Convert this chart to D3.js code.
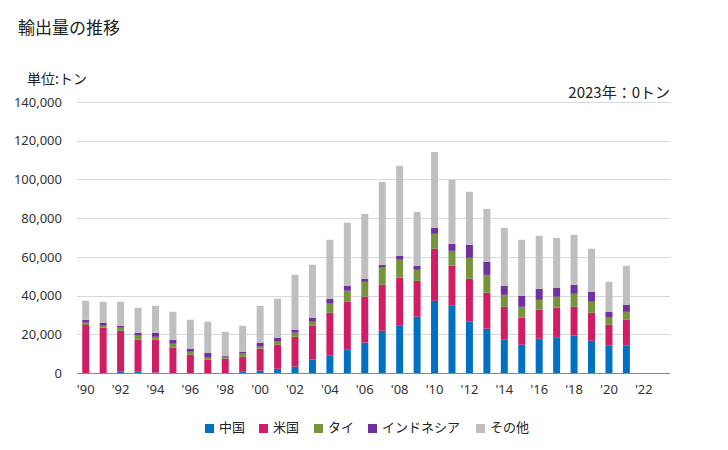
<!DOCTYPE html>
<html><head><meta charset="utf-8">
<script src="https://cdn.jsdelivr.net/npm/d3@7"></script>
<style>body{margin:0;background:#fff;}svg{display:block;font-family:"Noto Sans CJK JP","Noto Sans",sans-serif;}</style>
</head><body>
<svg id="c" width="728" height="450"></svg>
<script>
const years = d3.range(1990, 2024);
const seriesNames = ["中国","米国","タイ","インドネシア","その他"];
const colors = ["#0070c0","#d01e64","#77933c","#7030a0","#bfbfbf"];
const china = [0,0,900,900,200,0,0,0,0,900,1200,2200,3300,6900,8900,12000,15700,21800,24400,29100,37300,34700,26500,22900,17200,14600,17700,18200,19300,16700,14100,14100,0,0];
const usa = [24800,23400,20900,16300,17000,13100,9500,6900,7400,7500,11400,12400,15400,17500,22200,24800,23700,23800,24800,18500,26900,20700,22200,18600,17000,14000,15000,15500,14900,14400,10800,13400,0,0];
const thai = [1200,1000,1600,2100,1500,2000,1500,1000,1000,1600,1000,1600,2100,2100,4700,5700,7700,8800,9300,5700,7700,7700,10800,9200,6200,5600,5100,5700,6700,5700,3700,4100,0,0];
const indonesia = [1500,1600,1000,1500,2100,2100,1600,2600,500,1000,2100,2000,1600,2100,2600,2600,1600,1500,2000,2100,3100,3600,6700,6700,4700,5700,5700,4600,4700,5200,3000,3700,0,0];
const other = [9800,10800,12400,12900,13900,14400,14900,16000,12400,13400,19000,20200,28300,27300,30400,32500,33500,42800,46500,27800,39200,33100,27400,27400,29900,28900,27400,25800,25800,22200,15500,20100,0,0];
const yTicks = [0,20000,40000,60000,80000,100000,120000,140000];
const xTickYears = d3.range(1990, 2023, 2);

const rows = years.map((y,i)=>({year:y, "中国":china[i], "米国":usa[i], "タイ":thai[i], "インドネシア":indonesia[i], "その他":other[i]}));
const stack = d3.stack().keys(seriesNames)(rows);

const svg = d3.select("#c");
const pL = 77, pR = 670, pT = 102, pB = 373;
const x = d3.scaleBand().domain(years).range([pL, pR]).paddingInner(0.6).paddingOuter(0.3);
const y = d3.scaleLinear().domain([0,140000]).range([pB, pT]);

// grid
svg.append("g").selectAll("line").data(yTicks.filter(d=>d>0)).join("line")
  .attr("x1", pL).attr("x2", pR).attr("y1", d=>Math.round(y(d))+0.5).attr("y2", d=>Math.round(y(d))+0.5)
  .attr("stroke","#d9d9d9").attr("stroke-width",1);

// y labels
const yAxis = d3.axisLeft(y).tickValues(yTicks).tickFormat(d3.format(",")).tickSize(0).tickPadding(0);
const yg = svg.append("g").attr("transform",`translate(62,0)`).call(yAxis);
yg.select(".domain").remove();
yg.selectAll("text").attr("font-size",13).attr("fill","#333").attr("font-family","'Noto Sans','DejaVu Sans',sans-serif");

// bars
svg.append("g").selectAll("g").data(stack).join("g")
  .attr("fill",(d,i)=>colors[i])
  .selectAll("rect").data(d=>d).join("rect")
  .attr("x", d=>x(d.data.year)).attr("width", x.bandwidth())
  .attr("y", d=>y(d[1])).attr("height", d=>Math.max(0, y(d[0])-y(d[1])));

// x axis
const xAxis = d3.axisBottom(x).tickValues(xTickYears).tickFormat(d=>"'"+String(d).slice(2)).tickSize(0).tickPadding(12);
const xg = svg.append("g").attr("transform",`translate(0,${pB})`).call(xAxis);
xg.select(".domain").attr("stroke","#888").attr("d",`M${pL},0.5H${pR}`);
xg.selectAll("text").attr("font-size",13).attr("fill","#333").attr("font-family","'Noto Sans','DejaVu Sans',sans-serif");

// titles
svg.append("text").attr("x",18).attr("y",34).attr("font-size",17).attr("fill","#222").text("輸出量の推移");
svg.append("text").attr("x",27).attr("y",84).attr("font-size",14).attr("fill","#222").text("単位:トン");
svg.append("text").attr("x",670).attr("y",98).attr("text-anchor","end").attr("font-size",15).attr("fill","#222").text("2023年：0トン");

// legend
const legX = [205,259,314,368,476];
const lg = svg.append("g").selectAll("g").data(seriesNames).join("g")
  .attr("transform",(d,i)=>`translate(${legX[i]},424)`);
lg.append("rect").attr("width",9).attr("height",9).attr("y",0).attr("fill",(d,i)=>colors[i]);
lg.append("text").attr("x",14).attr("y",8).attr("font-size",13).attr("fill","#222").text(d=>d);
</script>
</body></html>
